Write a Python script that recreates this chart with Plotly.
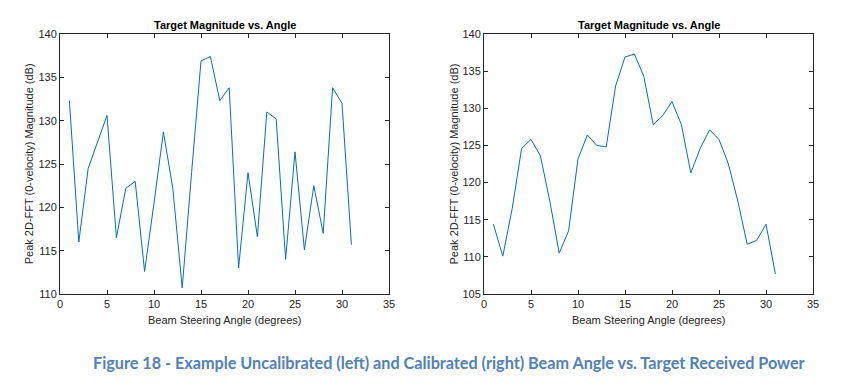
import plotly.graph_objects as go

angles = [1, 2, 3, 4, 5, 6, 7, 8, 9, 10, 11, 12, 13, 14, 15, 16,
          17, 18, 19, 20, 21, 22, 23, 24, 25, 26, 27, 28, 29, 30, 31]
uncalibrated = [132.3, 116.0, 124.5, 127.5, 130.6, 116.5, 122.2, 123.0, 112.6, 120.5,
                128.7, 122.2, 110.7, 124.0, 136.9, 137.4, 132.3, 133.8, 113.0, 124.0,
                116.6, 131.0, 130.2, 114.0, 126.4, 115.1, 122.5, 117.0, 133.8, 132.0, 115.7]
calibrated = [114.4, 110.1, 116.5, 124.6, 125.8, 123.6, 117.5, 110.5, 113.5, 123.2,
              126.4, 125.0, 124.8, 133.0, 136.9, 137.3, 134.3, 127.8, 129.0, 130.9,
              127.8, 121.3, 124.6, 127.1, 125.8, 122.5, 117.5, 111.7, 112.2, 114.4, 107.7]
x_ticks = [0, 5, 10, 15, 20, 25, 30, 35]
y_ticks_left = [110, 115, 120, 125, 130, 135, 140]
y_ticks_right = [105, 110, 115, 120, 125, 130, 135, 140]

title_text = "Target Magnitude vs. Angle"
x_title = "Beam Steering Angle (degrees)"
y_title = "Peak 2D-FFT (0-velocity) Magnitude (dB)"
caption = "Figure 18 - Example Uncalibrated (left) and Calibrated (right) Beam Angle vs. Target Received Power"

W, H = 841, 387
line_color = "#0072BD"
axis_color = "#262626"
font_family = "Liberation Sans, Arial, sans-serif"

fig = go.Figure()
fig.add_trace(go.Scatter(x=angles, y=uncalibrated, mode="lines",
                         line=dict(color=line_color, width=1), xaxis="x", yaxis="y"))
fig.add_trace(go.Scatter(x=angles, y=calibrated, mode="lines",
                         line=dict(color=line_color, width=1), xaxis="x2", yaxis="y2"))

ydom = [(H - 294) / H, (H - 34) / H]
left_dom = [60 / W, 389 / W]
right_dom = [484 / W, 813 / W]

def xaxis(domain, anchor):
    return dict(domain=domain, anchor=anchor, range=[0, 35], tickvals=x_ticks,
                automargin=False,
                ticks="inside", ticklen=4, tickwidth=1, tickcolor=axis_color,
                showline=True, linecolor=axis_color, linewidth=1, mirror="allticks",
                showgrid=False, zeroline=False,
                tickfont=dict(size=11, color=axis_color, family=font_family))

def yaxis(rng, ticks, anchor):
    return dict(domain=ydom, anchor=anchor, range=rng, tickvals=ticks,
                automargin=False,
                ticks="inside", ticklen=4, tickwidth=1, tickcolor=axis_color,
                showline=True, linecolor=axis_color, linewidth=1, mirror="allticks",
                showgrid=False, zeroline=False,
                tickfont=dict(size=11, color=axis_color, family=font_family))

annotations = []
for dom, ytx in ((left_dom, 29.3), (right_dom, 453.5)):
    cx = (dom[0] + dom[1]) / 2
    annotations.append(dict(text="<b>" + title_text + "</b>", x=cx, y=(H - 25) / H,
                            xref="paper", yref="paper", showarrow=False,
                            xanchor="center", yanchor="middle",
                            font=dict(size=11, color="black", family=font_family)))
    annotations.append(dict(text=x_title, x=cx, y=(H - 319.5) / H,
                            xref="paper", yref="paper", showarrow=False,
                            xanchor="center", yanchor="middle",
                            font=dict(size=11, color=axis_color, family=font_family)))
    annotations.append(dict(text=y_title, x=ytx / W, y=(H - 164) / H, textangle=-90,
                            xref="paper", yref="paper", showarrow=False,
                            xanchor="center", yanchor="middle",
                            font=dict(size=11, color=axis_color, family=font_family)))
annotations.append(dict(text="<b>" + caption + "</b>", x=449 / W, y=(H - 362) / H,
                        xref="paper", yref="paper", showarrow=False,
                        xanchor="center", yanchor="middle",
                        font=dict(size=16.2, color="#4F81BD", family="Lato, Open Sans, sans-serif")))

fig.update_layout(
    width=W, height=H,
    margin=dict(l=0, r=0, t=0, b=0, autoexpand=False),
    paper_bgcolor="white", plot_bgcolor="white",
    showlegend=False,
    xaxis=xaxis(left_dom, "y"),
    yaxis=yaxis([110, 140], y_ticks_left, "x"),
    xaxis2=xaxis(right_dom, "y2"),
    yaxis2=yaxis([105, 140], y_ticks_right, "x2"),
    annotations=annotations,
)

fig.write_html("out.html", config={"displayModeBar": False},
               post_script="document.body.style.margin='0px';")
